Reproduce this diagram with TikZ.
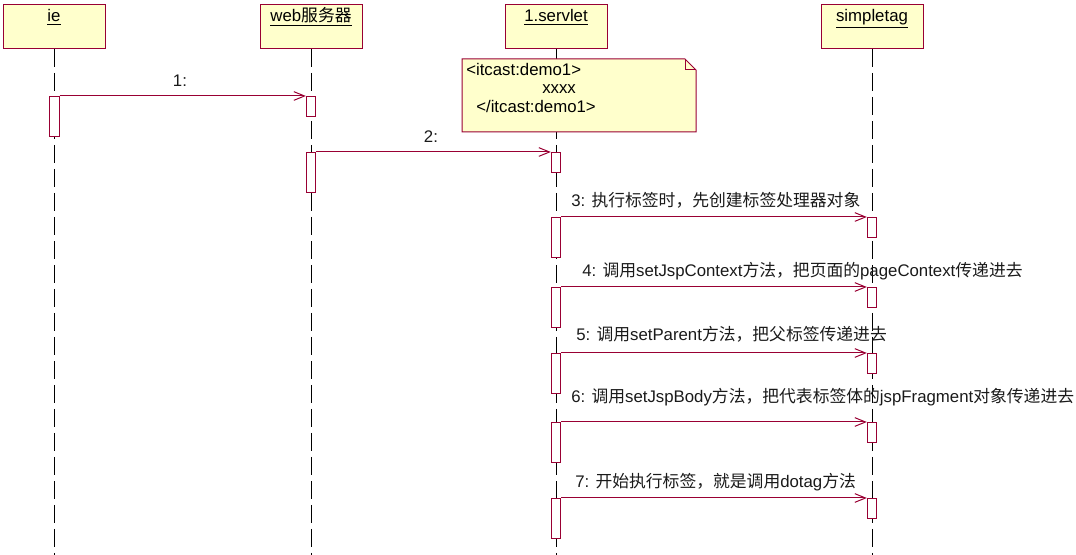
\documentclass[tikz,border=0pt]{standalone}
\usepackage{fontspec}
\setmainfont{Liberation Sans}
\newfontfamily\cjk{Noto Sans CJK SC}
\usetikzlibrary{arrows.meta}
\definecolor{umlred}{HTML}{990033}
\definecolor{umlyel}{HTML}{FFFFCC}
\definecolor{txtc}{HTML}{1A1A1A}
\tikzset{
  hdr/.style={draw=umlred, fill=umlyel, line width=0.75pt, minimum width=76.5pt, minimum height=33pt, inner sep=0pt, anchor=north},
  hdrtext/.style={anchor=base, inner sep=0pt, font=\fontsize{12.6}{14}\selectfont, text=black},
  life/.style={line width=0.75pt, black, dash pattern=on 13.5pt off 4.5pt},
  actshort/.style={draw=umlred, fill=white, line width=0.75pt, minimum width=7pt, minimum height=15pt, inner sep=0pt, anchor=north},
  actlong/.style={draw=umlred, fill=white, line width=0.75pt, minimum width=7pt, minimum height=30pt, inner sep=0pt, anchor=north},
  msg/.style={draw=umlred, line width=0.75pt, -{Straight Barb[length=8pt, width=6.5pt, line width=0.75pt]}},
  msglabel/.style={inner sep=0pt, font=\fontsize{12.6}{14}\selectfont, text=txtc},
  notetext/.style={inner sep=0pt, anchor=base west, font=\fontsize{12.6}{14}\selectfont, text=black},
}
\begin{document}
\begin{tikzpicture}[x=0.75pt, y=-0.75pt]
\useasboundingbox (0,0) rectangle (1076,555);
\coordinate (bot) at (0,555);
% headers
\node[hdr] (ie) at (54,4) {};
\node[hdr] (web) at (311,4) {};
\node[hdr] (srv) at (556,4) {};
\node[hdr] (st) at (872,4) {};
\node[hdrtext] (iet) at (54,22) {\underline{ie}};
\node[hdrtext] (webt) at (311,22) {\underline{web{\cjk 服务器}}};
\node[hdrtext] (srvt) at (556,22) {\underline{1.servlet}};
\node[hdrtext] (stt) at (872,22) {\underline{simpletag}};
% lifelines
\draw[life] (ie.south) -- (ie.south |- bot);
\draw[life] (web.south) -- (web.south |- bot);
\draw[life] (srv.south) -- (srv.south |- bot);
\draw[life] (st.south) -- (st.south |- bot);
% note
\coordinate (n1) at (462,59);
\coordinate (n2) at (685,59);
\coordinate (n3) at (696,70);
\coordinate (n4) at (696,132);
\coordinate (n5) at (462,132);
\coordinate (nf) at (685,70);
\draw[draw=umlred, fill=umlyel, line width=0.75pt] (n1) -- (n2) -- (n3) -- (n4) -- (n5) -- cycle;
\draw[draw=umlred, line width=0.75pt] (n2) -- (nf) -- (n3);
\node[notetext] (nt1) at (466,76) {<itcast:demo1>};
\node[notetext] (nt2) at (542,94) {xxxx};
\node[notetext] (nt3) at (476,113) {</itcast:demo1>};
% activations
\node[actlong] (aie) at (54.5,96) {};
\node[actshort] (aw1) at (311,96) {};
\node[actlong] (aw2) at (311,152) {};
\node[actshort] (as1) at (556,152) {};
\node[actlong] (as3) at (556,217) {};
\node[actlong] (as4) at (556,287) {};
\node[actlong] (as5) at (556,353) {};
\node[actlong] (as6) at (556,422) {};
\node[actlong] (as7) at (556,498) {};
\node[actshort] (at3) at (872,217) {};
\node[actshort] (at4) at (872,287) {};
\node[actshort] (at5) at (872,353) {};
\node[actshort] (at6) at (872,422) {};
\node[actshort] (at7) at (872,498) {};
% messages
\draw[msg] (aie.north east) -- (aw1.north west);
\draw[msg] (aw2.north east) -- (as1.north west);
\draw[msg] (as3.north east) -- (at3.north west);
\draw[msg] (as4.north east) -- (at4.north west);
\draw[msg] (as5.north east) -- (at5.north west);
\draw[msg] (as6.north east) -- (at6.north west);
\draw[msg] (as7.north east) -- (at7.north west);
% message labels
\node[msglabel, anchor=base] (l1) at (180,87) {1:};
\node[msglabel, anchor=base] (l2) at (431,143) {2:};
\node[msglabel, anchor=base west] (l3) at (571,207) {3: {\cjk 执行标签时，先创建标签处理器对象}};
\node[msglabel, anchor=base west] (l4) at (582,277) {4: {\cjk 调用}setJspContext{\cjk 方法，把页面的}pageContext{\cjk 传递进去}};
\node[msglabel, anchor=base west] (l5) at (576,341) {5: {\cjk 调用}setParent{\cjk 方法，把父标签传递进去}};
\node[msglabel, anchor=base west] (l6) at (571,403) {6: {\cjk 调用}setJspBody{\cjk 方法，把代表标签体的}jspFragment{\cjk 对象传递进去}};
\node[msglabel, anchor=base west] (l7) at (575,488) {7: {\cjk 开始执行标签，就是调用}dotag{\cjk 方法}};
\end{tikzpicture}
\end{document}
